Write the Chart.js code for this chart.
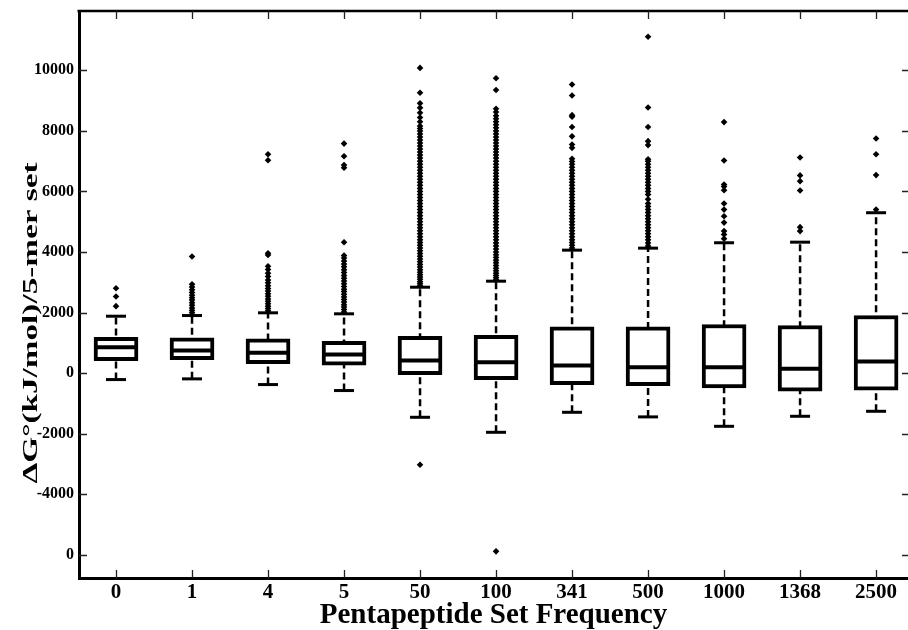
<!DOCTYPE html>
<html><head><meta charset="utf-8">
<script src="https://cdn.jsdelivr.net/npm/chart.js@4.4.0/dist/chart.umd.min.js"></script>
<style>html,body{margin:0;padding:0;background:#fff;} canvas{display:block;}</style>
</head><body>
<canvas id="c" width="908" height="630"></canvas>
<script>
const categories = ['0','1','4','5','50','100','341','500','1000','1368','2500'];
const q1 = [413, 446, 314, 258, -50, -215, -380, -413, -489, -602, -569];
const medians = [853, 744, 668, 612, 413, 357, 248, 192, 192, 139, 380];
const q3 = [1183, 1164, 1131, 1051, 1217, 1250, 1527, 1527, 1603, 1570, 1901];
const whiskerLow = [-215, -192, -380, -578, -1461, -1957, -1296, -1448, -1759, -1428, -1263];
const whiskerHigh = [1878, 1900, 1990, 1957, 2836, 3035, 4060, 4126, 4304, 4324, 5296];
const yTickValues = [-6000, -4000, -2000, 0, 2000, 4000, 6000, 8000, 10000];
const yTickLabels = ['0', '-4000', '-2000', '0', '2000', '4000', '6000', '8000', '10000'];
const xTitle = 'Pentapeptide Set Frequency';
const yTitle = 'ΔG°(kJ/mol)/5-mer set';

const outliers0 = [2210, 2530, 2800];
const outliers1 = [1990, 2070, 2150, 2240, 2320, 2410, 2490, 2570, 2660, 2750, 2840, 2930, 3850];
const outliers4 = [2060, 2130, 2210, 2290, 2370, 2450, 2540, 2620, 2710, 2790, 2880, 2980, 3070, 3190, 3300, 3420, 3530, 3900, 3960, 7030, 7230];
const outliers5 = [2020, 2100, 2180, 2260, 2350, 2430, 2510, 2600, 2690, 2770, 2860, 2950, 3040, 3130, 3220, 3320, 3410, 3510, 3600, 3700, 3800, 3880, 4320, 6780, 6870, 7160, 7580];
const outliers50 = [-3030, 2880, 2950, 3020, 3100, 3170, 3250, 3330, 3410, 3500, 3590, 3680, 3770, 3860, 3950, 4040, 4130, 4220, 4310, 4400, 4500, 4600, 4700, 4800, 4900, 5000, 5100, 5200, 5300, 5400, 5500, 5600, 5700, 5800, 5900, 6000, 6100, 6200, 6300, 6400, 6500, 6600, 6700, 6800, 6900, 7000, 7100, 7200, 7300, 7400, 7500, 7600, 7700, 7800, 7900, 8000, 8080, 8160, 8300, 8440, 8600, 8760, 8910, 9260, 10080];
const outliers100 = [-5890, 3080, 3150, 3220, 3300, 3380, 3460, 3550, 3640, 3730, 3820, 3910, 4000, 4100, 4200, 4300, 4400, 4500, 4600, 4700, 4800, 4900, 5000, 5100, 5200, 5300, 5400, 5500, 5600, 5700, 5800, 5900, 6000, 6100, 6200, 6300, 6400, 6500, 6600, 6700, 6800, 6900, 7000, 7100, 7200, 7300, 7400, 7500, 7600, 7700, 7800, 7900, 8000, 8100, 8200, 8300, 8400, 8500, 8620, 8730, 9350, 9740];
const outliers341 = [4130, 4220, 4310, 4400, 4500, 4600, 4700, 4800, 4900, 5000, 5100, 5200, 5300, 5400, 5500, 5600, 5700, 5800, 5900, 6000, 6100, 6200, 6300, 6400, 6500, 6600, 6700, 6800, 6900, 6990, 7080, 7440, 7550, 7820, 8130, 8470, 8520, 9170, 9530];
const outliers500 = [4200, 4300, 4400, 4500, 4600, 4700, 4800, 4900, 5000, 5100, 5200, 5300, 5400, 5500, 5600, 5740, 5900, 6000, 6100, 6200, 6300, 6400, 6500, 6600, 6700, 6800, 6900, 7000, 7060, 7530, 7660, 8130, 8770, 11110];
const outliers1000 = [4440, 4580, 4690, 4970, 5180, 5400, 5600, 6040, 6160, 6230, 7020, 8290];
const outliers1368 = [4690, 4820, 6030, 6340, 6530, 7120];
const outliers2500 = [5400, 6540, 7230, 7750];
const outliers = [outliers0, outliers1, outliers4, outliers5, outliers50, outliers100, outliers341, outliers500, outliers1000, outliers1368, outliers2500];

const boxData = categories.map((c, i) => ({x: i, y: [q1[i], q3[i]]}));
const whiskerData = [];
const capData = [];
categories.forEach((c, i) => {
  whiskerData.push({x: i, y: whiskerLow[i]}, {x: i, y: whiskerHigh[i]}, {x: i, y: null});
  capData.push({x: i, y: whiskerLow[i]}, {x: i, y: whiskerHigh[i]});
});
const medianData = medians.map((m, i) => ({x: i, y: m}));
const outlierData = [];
outliers.forEach((arr, i) => arr.forEach(v => outlierData.push({x: i, y: v})));

const FONT = 'Liberation Serif';

const framePlugin = {
  id: 'frame',
  afterDraw(chart) {
    const {ctx, chartArea: a, scales: {x, y}} = chart;
    ctx.save();
    ctx.strokeStyle = '#000';
    ctx.lineWidth = 2.5;
    ctx.beginPath();
    ctx.moveTo(a.left - 1.5, a.top);
    ctx.lineTo(a.right, a.top);
    ctx.stroke();
    ctx.lineWidth = 1.3;
    ctx.strokeStyle = '#222';
    ctx.beginPath();
    x.ticks.forEach(t => {
      const px = Math.round(x.getPixelForValue(t.value)) + 0.5;
      ctx.moveTo(px, a.bottom); ctx.lineTo(px, a.bottom - 8);
      ctx.moveTo(px, a.top); ctx.lineTo(px, a.top + 8);
    });
    y.ticks.forEach(t => {
      const py = Math.round(y.getPixelForValue(t.value)) + 0.5;
      ctx.moveTo(a.left, py); ctx.lineTo(a.left + 8, py);
      ctx.moveTo(a.right, py); ctx.lineTo(a.right - 6, py);
    });
    ctx.stroke();
    // y-axis title (stretched along its reading direction as in the reference)
    ctx.fillStyle = '#000';
    ctx.font = 'bold 22px "' + FONT + '"';
    const w = ctx.measureText(yTitle).width;
    ctx.translate(37, 323);
    ctx.rotate(-Math.PI / 2);
    ctx.scale(321 / w, 1);
    ctx.textAlign = 'center';
    ctx.textBaseline = 'alphabetic';
    ctx.fillText(yTitle, 0, 0);
    ctx.restore();
  }
};

new Chart(document.getElementById('c'), {
  type: 'bar',
  data: {
    datasets: [
      {type: 'line', data: whiskerData, borderColor: '#000', borderWidth: 2.5, borderDash: [7, 4],
       pointRadius: 0, spanGaps: false, fill: false, order: 4},
      {type: 'bar', data: boxData, backgroundColor: '#fff', borderColor: '#000', borderWidth: 4,
       borderSkipped: false, barThickness: 44, order: 3},
      {type: 'scatter', data: capData, pointStyle: 'line', pointRadius: 10, pointBorderWidth: 3,
       pointBorderColor: '#000', borderColor: '#000', order: 2},
      {type: 'scatter', data: medianData, pointStyle: 'line', pointRadius: 20, pointBorderWidth: 4,
       pointBorderColor: '#000', borderColor: '#000', order: 1},
      {type: 'scatter', data: outlierData, pointStyle: 'rectRot', pointRadius: 3.3, pointBorderWidth: 0,
       pointBackgroundColor: '#000', backgroundColor: '#000', borderColor: '#000', order: 0}
    ]
  },
  options: {
    responsive: false,
    animation: false,
    devicePixelRatio: 1,
    layout: {autoPadding: false, padding: {top: 11, right: 0, left: 0, bottom: 0}},
    plugins: {legend: {display: false}, tooltip: {enabled: false}},
    scales: {
      x: {
        type: 'linear', min: -0.487, max: 10.42, offset: false,
        afterBuildTicks: s => { s.ticks = categories.map((c, i) => ({value: i})); },
        afterFit: s => { s.height = 52; s.paddingLeft = 0; s.paddingRight = 0; },
        grid: {display: false, drawTicks: false},
        border: {display: true, color: '#000', width: 3},
        ticks: {font: {family: FONT, size: 21, weight: 'bold'}, color: '#000', padding: 2,
                maxRotation: 0, autoSkip: false, callback: v => categories[v]},
        title: {display: true, text: xTitle, color: '#000',
                font: {family: FONT, size: 29, weight: 'bold', lineHeight: 1.0},
                padding: {top: 0, bottom: 0}}
      },
      y: {
        type: 'linear', min: -6770, max: 11960,
        afterBuildTicks: s => { s.ticks = yTickValues.map(v => ({value: v})); },
        afterFit: s => { s.width = 79; s.paddingTop = 0; s.paddingBottom = 0; },
        grid: {display: false, drawTicks: false},
        border: {display: true, color: '#000', width: 3},
        ticks: {font: {family: FONT, size: 16, weight: 'bold'}, color: '#000', padding: 5,
                autoSkip: false, callback: v => yTickLabels[yTickValues.indexOf(v)]}
      }
    }
  },
  plugins: [framePlugin]
});
</script>
</body></html>
